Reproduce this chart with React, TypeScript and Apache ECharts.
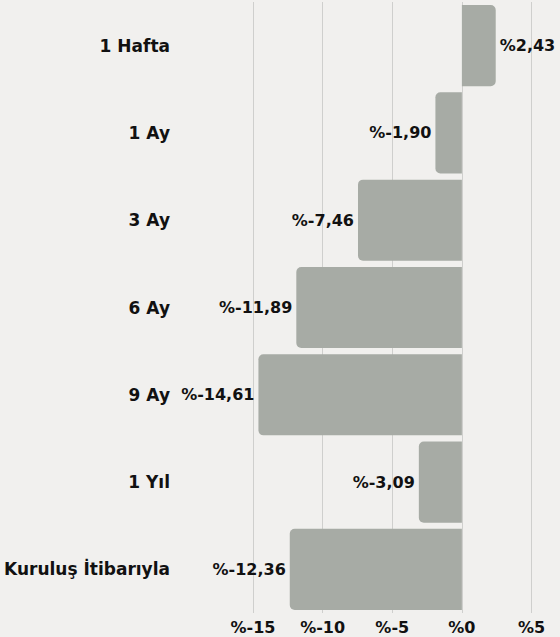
import React, { useEffect, useRef } from "react";
import * as echarts from "echarts";

const categories = ["1 Hafta", "1 Ay", "3 Ay", "6 Ay", "9 Ay", "1 Yıl", "Kuruluş İtibarıyla"];
const values = [2.43, -1.9, -7.46, -11.89, -14.61, -3.09, -12.36];
const xTicks = [-15, -10, -5, 0, 5];

const fmt = (v: number) => "%" + v.toFixed(2).replace(".", ",");

export default function App() {
  const ref = useRef<HTMLDivElement>(null);
  useEffect(() => {
    if (!ref.current) return;
    const chart = echarts.init(ref.current, null, { renderer: "svg" });
    const font = "DejaVu Sans";
    chart.setOption({
      animation: false,
      backgroundColor: "#f1f0ee",
      grid: { left: 253, right: 28.5, top: 2, bottom: 24, containLabel: false },
      xAxis: {
        type: "value",
        min: xTicks[0],
        max: xTicks[xTicks.length - 1],
        interval: 5,
        axisLine: { show: false },
        axisTick: { show: false },
        splitLine: { show: true, lineStyle: { color: "#cfcfcd", width: 1 } },
        axisLabel: {
          formatter: (v: number) => "%" + v,
          color: "#111",
          fontFamily: font,
          fontWeight: 700,
          fontSize: 16,
          margin: 6,
        },
      },
      yAxis: {
        type: "category",
        data: categories,
        inverse: true,
        axisLine: { show: false },
        axisTick: { show: false },
        splitLine: { show: false },
        axisLabel: {
          color: "#111",
          fontFamily: font,
          fontWeight: 700,
          fontSize: 17,
          margin: 83,
        },
      },
      series: [
        {
          type: "bar",
          barCategoryGap: "7%",
          data: values.map((v) => ({
            value: v,
            itemStyle: {
              color: "#a7aba5",
              borderRadius: v >= 0 ? [0, 5, 5, 0] : [5, 0, 0, 5],
            },
            label: {
              show: true,
              position: v >= 0 ? "right" : "left",
              distance: 4,
              formatter: () => fmt(v),
              color: "#111",
              fontFamily: font,
              fontWeight: 700,
              fontSize: 16,
            },
          })),
        },
      ],
    });
    return () => chart.dispose();
  }, []);
  return (
    <div
      ref={ref}
      style={{ position: "fixed", left: 0, top: 0, width: 560, height: 637 }}
    />
  );
}
